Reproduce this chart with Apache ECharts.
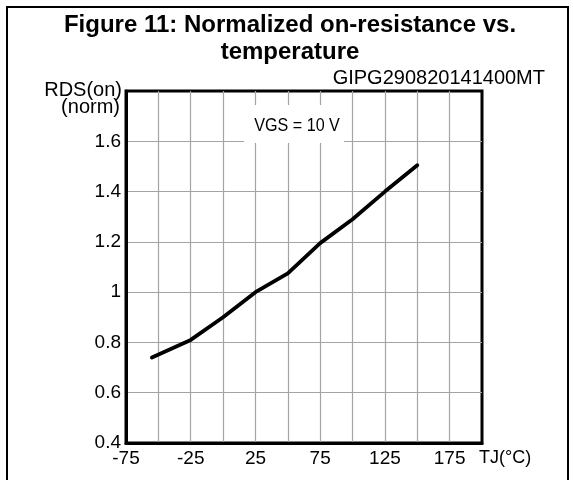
<!DOCTYPE html>
<html>
<head>
<meta charset="utf-8">
<script src="https://cdn.jsdelivr.net/npm/echarts@6/dist/echarts.min.js"></script>
<style>
  html, body { margin: 0; padding: 0; background: #fff; }
  #chart { width: 573px; height: 480px; }
</style>
</head>
<body>
<div id="chart"></div>
<script>
// Junction temperature (°C) and normalized RDS(on)
const tempC = [-55, -25, 0, 25, 50, 75, 100, 125, 150];
const rdsNorm = [0.74, 0.81, 0.90, 1.00, 1.075, 1.195, 1.29, 1.40, 1.505];

// Axis ranges and which ticks carry a label
const xRange = { min: -75, max: 200, step: 25 };
const xLabelled = [-75, -25, 25, 75, 125, 175];
const yRange = { min: 0.4, max: 1.8, step: 0.2 };
const yLabelled = [0.4, 0.6, 0.8, 1.0, 1.2, 1.4, 1.6];

const titleText = 'Figure 11: Normalized on-resistance vs.\ntemperature';
const codeText = 'GIPG290820141400MT';
const condText = 'VGS = 10 V';

const FONT = '"Liberation Sans", Arial, Helvetica, sans-serif';

const chart = echarts.init(document.getElementById('chart'), null, { renderer: 'canvas' });

const points = tempC.map((t, i) => [t, rdsNorm[i]]);

const near = (list, v) => list.some(x => Math.abs(x - v) < 1e-6);

chart.setOption({
  animation: false,
  backgroundColor: '#fff',
  title: {
    text: titleText,
    left: 290,
    top: 12,
    textAlign: 'center',
    padding: 0,
    textStyle: {
      fontFamily: FONT, fontSize: 24, fontWeight: 'bold',
      color: '#000', lineHeight: 27
    }
  },
  grid: {
    left: 126, right: 91, top: 91, bottom: 37,
    show: true, borderColor: '#000', borderWidth: 3,
    backgroundColor: 'transparent'
  },
  xAxis: {
    type: 'value',
    min: xRange.min, max: xRange.max, interval: xRange.step,
    axisLine: { show: true, onZero: false, lineStyle: { color: '#000', width: 3 } },
    axisTick: { show: false },
    splitLine: { show: true, showMinLine: false, showMaxLine: false,
                 lineStyle: { color: '#a4a4a4', width: 1.2 } },
    axisLabel: {
      margin: 6,
      fontFamily: FONT, fontSize: 19, color: '#000',
      showMaxLabel: true, showMinLabel: true,
      formatter: v => near(xLabelled, v) ? String(v) : ''
    }
  },
  yAxis: {
    type: 'value',
    min: yRange.min, max: yRange.max, interval: yRange.step,
    axisLine: { show: true, onZero: false, lineStyle: { color: '#000', width: 3 } },
    axisTick: { show: false },
    splitLine: { show: true, showMinLine: false, showMaxLine: false,
                 lineStyle: { color: '#a4a4a4', width: 1.2 } },
    axisLabel: {
      margin: 5,
      fontFamily: FONT, fontSize: 19, color: '#000',
      formatter: v => near(yLabelled, v) ? String(parseFloat(v.toFixed(1))) : ''
    }
  },
  series: [{
    type: 'line',
    data: points,
    showSymbol: false,
    symbol: 'none',
    z: 5,
    lineStyle: { color: '#000', width: 3.8, cap: 'round', join: 'round' }
  }],
  graphic: [
    // outer frame
    {
      type: 'rect', z: 10, silent: true,
      shape: { x: 7, y: 7, width: 561, height: 490 },
      style: { fill: 'none', stroke: '#000', lineWidth: 2 }
    },
    // drawing code, top right
    {
      type: 'text', z: 10, x: 545, y: 78,
      style: {
        text: codeText, font: '20px ' + FONT, fill: '#000',
        textAlign: 'right', textVerticalAlign: 'middle'
      }
    },
    // y axis name
    {
      type: 'text', z: 10, x: 122, y: 90,
      style: {
        text: 'RDS(on)', font: '20px ' + FONT, fill: '#000',
        textAlign: 'right', textVerticalAlign: 'middle'
      }
    },
    {
      type: 'text', z: 10, x: 120, y: 107,
      style: {
        text: '(norm)', font: '20px ' + FONT, fill: '#000',
        textAlign: 'right', textVerticalAlign: 'middle'
      }
    },
    // x axis name
    {
      type: 'text', z: 10, x: 479, y: 458,
      style: {
        text: 'TJ(°C)', font: '18px ' + FONT, fill: '#000',
        textAlign: 'left', textVerticalAlign: 'middle'
      }
    },
    // test condition box
    {
      type: 'rect', z: 6, silent: true,
      shape: { x: 244, y: 105, width: 100, height: 38 },
      style: { fill: '#fff', stroke: 'none' }
    },
    {
      type: 'text', z: 7, x: 297, y: 125.5, scaleX: 0.85,
      originX: 0, originY: 0,
      style: {
        text: condText, font: '19px ' + FONT, fill: '#000',
        textAlign: 'center', textVerticalAlign: 'middle'
      }
    }
  ]
});
</script>
</body>
</html>
